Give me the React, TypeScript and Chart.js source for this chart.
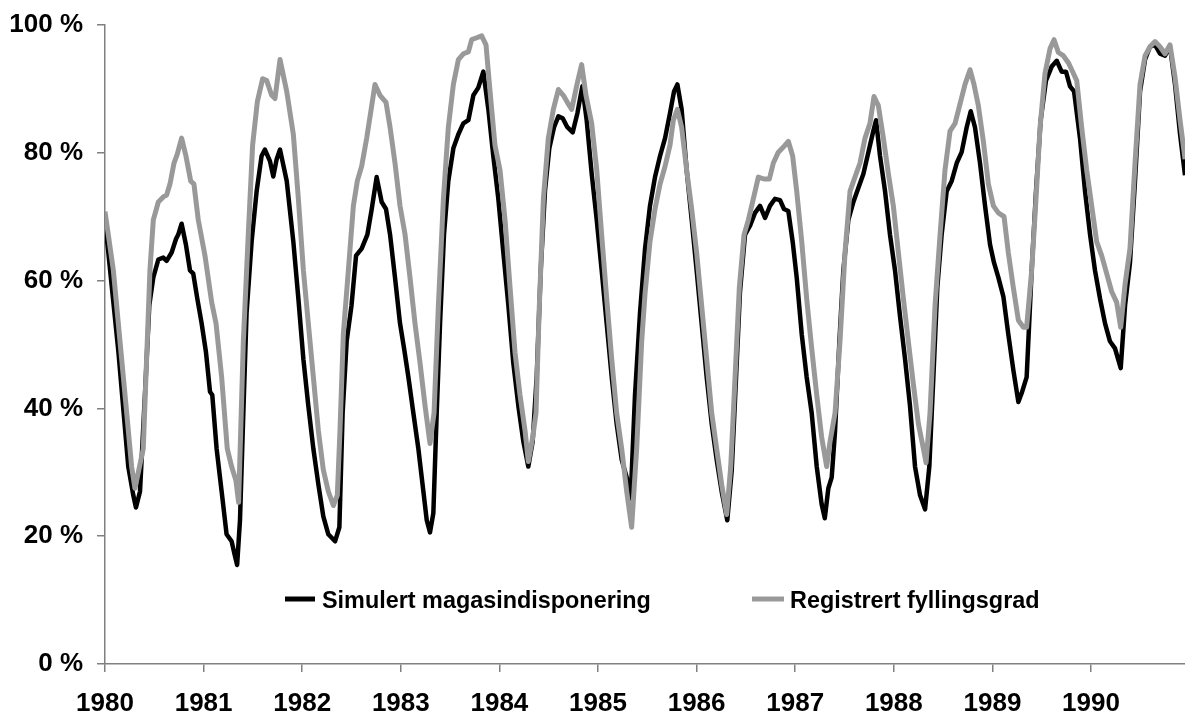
import { useEffect, useRef } from "react";
import { Chart, registerables } from "chart.js";

Chart.register(...registerables);

// Simulated reservoir disposition (decimal year, % filled)
const SIM_T = [
  1980.0, 1980.135, 1980.236, 1980.287, 1980.314, 1980.355, 1980.405, 1980.449, 1980.49, 1980.541,
  1980.591, 1980.625, 1980.676, 1980.72, 1980.743, 1980.777, 1980.821, 1980.862, 1980.895, 1980.936,
  1980.98, 1981.024, 1981.065, 1981.088, 1981.132, 1981.183, 1981.233, 1981.284, 1981.318, 1981.34,
  1981.369, 1981.403, 1981.436, 1981.487, 1981.538, 1981.588, 1981.622, 1981.673, 1981.707, 1981.741,
  1981.775, 1981.843, 1981.91, 1981.961, 1982.012, 1982.062, 1982.113, 1982.164, 1982.214, 1982.265,
  1982.333, 1982.377, 1982.41, 1982.451, 1982.5, 1982.546, 1982.603, 1982.661, 1982.705, 1982.755,
  1982.806, 1982.85, 1982.891, 1982.941, 1982.992, 1983.033, 1983.077, 1983.127, 1983.178, 1983.229,
  1983.263, 1983.296, 1983.33, 1983.364, 1983.398, 1983.438, 1983.482, 1983.533, 1983.584, 1983.634,
  1983.685, 1983.736, 1983.786, 1983.837, 1983.888, 1983.938, 1983.989, 1984.04, 1984.091, 1984.141,
  1984.192, 1984.243, 1984.293, 1984.337, 1984.378, 1984.419, 1984.462, 1984.506, 1984.554, 1984.598,
  1984.642, 1984.689, 1984.743, 1984.791, 1984.841, 1984.885, 1984.936, 1984.987, 1985.037, 1985.088,
  1985.139, 1985.189, 1985.24, 1985.291, 1985.331, 1985.375, 1985.426, 1985.477, 1985.527, 1985.578,
  1985.629, 1985.68, 1985.73, 1985.771, 1985.805, 1985.848, 1985.899, 1985.95, 1986.0, 1986.051,
  1986.102, 1986.153, 1986.203, 1986.254, 1986.311, 1986.356, 1986.4, 1986.44, 1986.491, 1986.542,
  1986.592, 1986.643, 1986.694, 1986.744, 1986.795, 1986.846, 1986.886, 1986.93, 1986.974, 1987.015,
  1987.066, 1987.116, 1987.167, 1987.218, 1987.268, 1987.3, 1987.336, 1987.37, 1987.404, 1987.448,
  1987.488, 1987.539, 1987.59, 1987.64, 1987.691, 1987.742, 1987.792, 1987.82, 1987.86, 1987.911,
  1987.961, 1988.012, 1988.063, 1988.114, 1988.164, 1988.215, 1988.266, 1988.317, 1988.36, 1988.401,
  1988.441, 1988.485, 1988.536, 1988.587, 1988.638, 1988.688, 1988.739, 1988.78, 1988.823, 1988.874,
  1988.925, 1988.976, 1989.016, 1989.06, 1989.111, 1989.161, 1989.212, 1989.263, 1989.297, 1989.347,
  1989.398, 1989.442, 1989.489, 1989.543, 1989.601, 1989.652, 1989.702, 1989.746, 1989.787, 1989.828,
  1989.888, 1989.939, 1989.99, 1990.04, 1990.091, 1990.142, 1990.192, 1990.243, 1990.301, 1990.345,
  1990.395, 1990.446, 1990.497, 1990.548, 1990.598, 1990.649, 1990.7, 1990.75, 1990.801, 1990.852,
  1990.903, 1990.953,
];
const SIM_V = [
  69.5, 49.0, 30.9, 26.4, 24.5, 27.0, 42.1, 56.1, 60.5, 63.3,
  63.6, 63.1, 64.4, 66.5, 67.2, 68.9, 65.6, 61.6, 61.1, 57.2,
  53.3, 48.8, 42.6, 42.1, 33.7, 27.0, 20.3, 19.2, 16.9, 15.5,
  22.5, 39.3, 55.0, 66.1, 74.0, 79.5, 80.5, 78.7, 76.3, 79.0,
  80.5, 75.6, 66.1, 57.2, 47.7, 40.4, 33.7, 28.1, 23.1, 20.3,
  19.2, 21.4, 39.3, 50.5, 56.1, 63.9, 65.0, 67.2, 71.2, 76.2,
  72.3, 71.2, 67.2, 60.5, 53.3, 49.4, 44.9, 39.3, 33.7, 27.0,
  22.5, 20.6, 23.6, 39.3, 53.3, 67.2, 75.6, 80.7, 82.9, 84.6,
  85.1, 89.0, 90.2, 92.7, 86.8, 79.5, 72.8, 64.4, 56.1, 47.1,
  40.4, 34.8, 30.9, 34.8, 44.9, 61.6, 74.0, 80.7, 84.0, 85.7,
  85.4, 84.0, 83.2, 86.2, 90.4, 85.1, 76.7, 69.5, 61.6, 53.3,
  44.9, 37.6, 32.0, 29.2, 25.9, 42.1, 55.0, 65.0, 71.7, 76.2,
  79.5, 82.3, 86.2, 89.6, 90.7, 86.8, 77.3, 69.5, 61.6, 53.3,
  44.9, 37.6, 32.0, 27.0, 22.5, 30.3, 44.9, 58.3, 67.2, 68.6,
  70.6, 71.7, 69.8, 71.7, 72.8, 72.6, 71.2, 70.9, 66.1, 60.5,
  51.6, 44.9, 39.3, 30.9, 25.0, 22.8, 27.5, 29.2, 36.5, 50.5,
  61.6, 69.5, 72.3, 74.5, 76.7, 80.1, 83.4, 85.1, 79.5, 74.0,
  67.2, 61.6, 54.4, 47.7, 40.4, 30.9, 26.4, 24.2, 30.9, 44.9,
  58.9, 67.2, 74.0, 75.6, 78.4, 80.1, 84.0, 86.5, 84.0, 78.4,
  71.7, 65.6, 62.8, 60.5, 57.5, 51.6, 46.0, 41.0, 42.4, 44.9,
  61.6, 74.0, 85.1, 91.3, 93.5, 94.4, 92.7, 92.7, 90.4, 89.6,
  82.3, 74.0, 67.2, 61.6, 57.2, 53.3, 50.5, 49.4, 46.3, 56.1,
  62.8, 75.6, 89.6, 94.6, 96.6, 96.9, 95.5, 95.2, 96.6, 90.7,
  82.9, 76.5,
];

// Registered filling degree (decimal year, % filled)
const REG_T = [
  1980.0, 1980.084, 1980.152, 1980.22, 1980.27, 1980.304, 1980.388, 1980.422, 1980.456, 1980.49,
  1980.541, 1980.591, 1980.625, 1980.659, 1980.7, 1980.733, 1980.777, 1980.821, 1980.869, 1980.902,
  1980.946, 1981.014, 1981.082, 1981.126, 1981.183, 1981.24, 1981.284, 1981.328, 1981.355, 1981.403,
  1981.453, 1981.497, 1981.545, 1981.599, 1981.64, 1981.69, 1981.724, 1981.775, 1981.843, 1981.91,
  1981.961, 1982.012, 1982.062, 1982.113, 1982.164, 1982.214, 1982.265, 1982.316, 1982.356, 1982.383,
  1982.417, 1982.468, 1982.519, 1982.559, 1982.603, 1982.654, 1982.705, 1982.738, 1982.789, 1982.85,
  1982.891, 1982.941, 1982.992, 1983.043, 1983.093, 1983.144, 1983.195, 1983.246, 1983.296, 1983.337,
  1983.381, 1983.432, 1983.482, 1983.533, 1983.584, 1983.634, 1983.685, 1983.719, 1983.77, 1983.82,
  1983.864, 1983.905, 1983.955, 1984.006, 1984.057, 1984.108, 1984.158, 1984.209, 1984.26, 1984.293,
  1984.337, 1984.371, 1984.405, 1984.446, 1984.496, 1984.547, 1984.598, 1984.648, 1984.689, 1984.733,
  1984.791, 1984.834, 1984.878, 1984.936, 1984.987, 1985.037, 1985.088, 1985.139, 1985.189, 1985.24,
  1985.291, 1985.341, 1985.392, 1985.443, 1985.477, 1985.527, 1985.578, 1985.629, 1985.68, 1985.73,
  1985.764, 1985.805, 1985.848, 1985.899, 1985.95, 1986.0, 1986.051, 1986.102, 1986.153, 1986.203,
  1986.254, 1986.305, 1986.346, 1986.39, 1986.433, 1986.481, 1986.525, 1986.575, 1986.626, 1986.684,
  1986.738, 1986.778, 1986.829, 1986.88, 1986.93, 1986.974, 1987.015, 1987.066, 1987.116, 1987.167,
  1987.218, 1987.268, 1987.319, 1987.353, 1987.404, 1987.454, 1987.505, 1987.556, 1987.606, 1987.657,
  1987.708, 1987.758, 1987.799, 1987.843, 1987.894, 1987.945, 1987.995, 1988.046, 1988.097, 1988.147,
  1988.198, 1988.249, 1988.3, 1988.327, 1988.367, 1988.418, 1988.469, 1988.519, 1988.57, 1988.621,
  1988.671, 1988.722, 1988.773, 1988.813, 1988.857, 1988.908, 1988.959, 1989.01, 1989.06, 1989.118,
  1989.161, 1989.212, 1989.263, 1989.314, 1989.347, 1989.398, 1989.442, 1989.483, 1989.533, 1989.584,
  1989.625, 1989.669, 1989.719, 1989.77, 1989.804, 1989.855, 1989.905, 1989.956, 1990.007, 1990.057,
  1990.108, 1990.159, 1990.209, 1990.26, 1990.301, 1990.345, 1990.395, 1990.446, 1990.497, 1990.548,
  1990.598, 1990.649, 1990.7, 1990.75, 1990.801, 1990.852, 1990.903, 1990.953,
];
const REG_V = [
  70.8, 61.7, 50.5, 39.3, 30.9, 27.5, 33.7, 47.7, 61.7, 69.5,
  72.3, 73.1, 73.4, 75.1, 78.4, 79.8, 82.3, 79.5, 75.6, 75.1,
  69.5, 63.9, 56.6, 53.3, 44.9, 33.7, 30.9, 28.7, 25.3, 50.5,
  67.2, 81.2, 88.0, 91.6, 91.3, 89.0, 88.5, 94.6, 89.6, 82.9,
  72.8, 61.6, 53.3, 44.9, 36.5, 30.4, 27.0, 24.8, 26.4, 36.5,
  51.6, 61.6, 71.7, 75.6, 77.9, 82.3, 87.4, 90.7, 89.0, 87.9,
  84.0, 78.4, 71.7, 67.2, 60.5, 53.3, 47.1, 40.4, 34.5, 39.3,
  56.1, 72.8, 84.0, 90.7, 94.6, 95.5, 95.8, 97.7, 98.0, 98.3,
  96.9, 89.6, 81.2, 77.3, 69.5, 58.9, 48.8, 42.1, 36.5, 31.7,
  35.4, 39.3, 56.1, 72.8, 82.3, 86.8, 89.9, 89.0, 87.9, 86.8,
  91.0, 93.8, 89.0, 84.6, 77.3, 67.2, 57.2, 47.7, 39.3, 33.7,
  27.0, 21.4, 33.7, 50.5, 58.0, 66.1, 71.2, 75.1, 77.9, 81.2,
  85.1, 86.8, 84.0, 77.3, 71.2, 64.4, 56.1, 47.7, 39.3, 33.7,
  28.1, 23.4, 30.9, 44.9, 58.9, 67.2, 69.5, 72.8, 76.2, 75.9,
  75.9, 78.4, 80.1, 80.9, 81.8, 79.5, 74.0, 66.1, 57.2, 49.4,
  42.1, 35.5, 30.9, 34.8, 39.3, 50.5, 64.4, 74.0, 76.2, 78.4,
  82.3, 84.6, 88.8, 87.4, 82.3, 76.7, 71.7, 64.4, 57.2, 50.5,
  43.8, 37.6, 33.7, 31.5, 39.3, 56.1, 67.2, 77.3, 83.4, 84.6,
  87.6, 90.7, 93.0, 90.7, 87.4, 81.8, 75.1, 71.7, 70.6, 70.0,
  64.4, 58.9, 53.8, 52.7, 52.7, 61.6, 72.8, 84.0, 92.4, 96.3,
  97.7, 95.7, 95.2, 94.1, 93.0, 91.3, 84.0, 77.3, 71.7, 66.1,
  63.9, 61.1, 58.3, 56.6, 52.7, 59.4, 65.0, 78.4, 90.7, 95.2,
  96.6, 97.4, 96.6, 95.5, 96.9, 91.8, 85.1, 79.0,
];

const YEAR_TICKS = [1980, 1981, 1982, 1983, 1984, 1985, 1986, 1987, 1988, 1989, 1990];
const SERIES_NAMES = ["Simulert magasindisponering", "Registrert fyllingsgrad"];
const SERIES_COLORS = ["#000000", "#999999"];

const FONT = "'Liberation Sans', Arial, Helvetica, sans-serif";
const AXIS_GREY = "#808080";

const toPoints = (t: number[], v: number[]) => t.map((x, i) => ({ x, y: v[i] }));

// Legend drawn inside the plot area, one row near the bottom
const innerLegend = {
  id: "innerLegend",
  afterDraw(chart: any) {
    const { ctx } = chart;
    const rows = [
      { x0: 285, x1: 315, tx: 322 },
      { x0: 752, x1: 784, tx: 790 },
    ];
    const y = 599;
    ctx.save();
    chart.data.datasets.forEach((ds: any, i: number) => {
      const r = rows[i];
      ctx.strokeStyle = ds.borderColor;
      ctx.lineWidth = 5;
      ctx.lineCap = "butt";
      ctx.beginPath();
      ctx.moveTo(r.x0, y);
      ctx.lineTo(r.x1, y);
      ctx.stroke();
      ctx.fillStyle = "#000";
      ctx.font = `bold 23.4px ${FONT}`;
      ctx.textBaseline = "alphabetic";
      ctx.textAlign = "left";
      ctx.fillText(ds.label, r.tx, y + 9);
    });
    ctx.restore();
  },
};

export default function App() {
  const canvasRef = useRef<HTMLCanvasElement | null>(null);

  useEffect(() => {
    if (!canvasRef.current) return;
    const tickFont = { family: FONT, size: 26, weight: "bold" as const };
    const chart = new Chart(canvasRef.current, {
      type: "line",
      data: {
        datasets: [
          {
            label: SERIES_NAMES[0],
            data: toPoints(SIM_T, SIM_V),
            borderColor: SERIES_COLORS[0],
            borderWidth: 4.5,
            borderJoinStyle: "round",
            pointRadius: 0,
            tension: 0,
            order: 1,
          },
          {
            label: SERIES_NAMES[1],
            data: toPoints(REG_T, REG_V),
            borderColor: SERIES_COLORS[1],
            borderWidth: 5,
            borderJoinStyle: "round",
            pointRadius: 0,
            tension: 0,
            order: 0,
          },
        ],
      },
      options: {
        animation: false,
        responsive: false,
        layout: { padding: { top: 25, right: 0, bottom: 0, left: 0 } },
        plugins: {
          legend: { display: false },
          tooltip: { enabled: false },
        },
        scales: {
          x: {
            type: "linear",
            min: 1980,
            max: 1990.953,
            afterBuildTicks: (scale: any) => {
              scale.ticks = YEAR_TICKS.map((value) => ({ value }));
            },
            afterFit: (scale: any) => {
              scale.height = 52;
            },
            ticks: {
              callback: (v: any) => String(v),
              font: tickFont,
              color: "#000",
              padding: 16,
              maxRotation: 0,
              autoSkip: false,
            },
            grid: {
              drawOnChartArea: false,
              drawTicks: true,
              tickLength: 8,
              color: AXIS_GREY,
              lineWidth: 1.5,
            },
            border: { color: AXIS_GREY, width: 1.5 },
          },
          y: {
            min: 0,
            max: 100,
            afterFit: (scale: any) => {
              scale.width = 105;
              scale.paddingTop = 0;
              scale.paddingBottom = 0;
            },
            ticks: {
              stepSize: 20,
              callback: (v: any) => `${v} %`,
              font: tickFont,
              color: "#000",
              padding: 14,
            },
            grid: {
              drawOnChartArea: false,
              drawTicks: true,
              tickLength: 8,
              color: AXIS_GREY,
              lineWidth: 1.5,
            },
            border: { color: AXIS_GREY, width: 1.5 },
          },
        },
      },
      plugins: [innerLegend],
    });
    return () => chart.destroy();
  }, []);

  return (
    <div style={{ position: "absolute", left: 0, top: 0, width: 1185, height: 716, background: "#fff" }}>
      <canvas ref={canvasRef} width={1185} height={716} style={{ display: "block" }} />
    </div>
  );
}
